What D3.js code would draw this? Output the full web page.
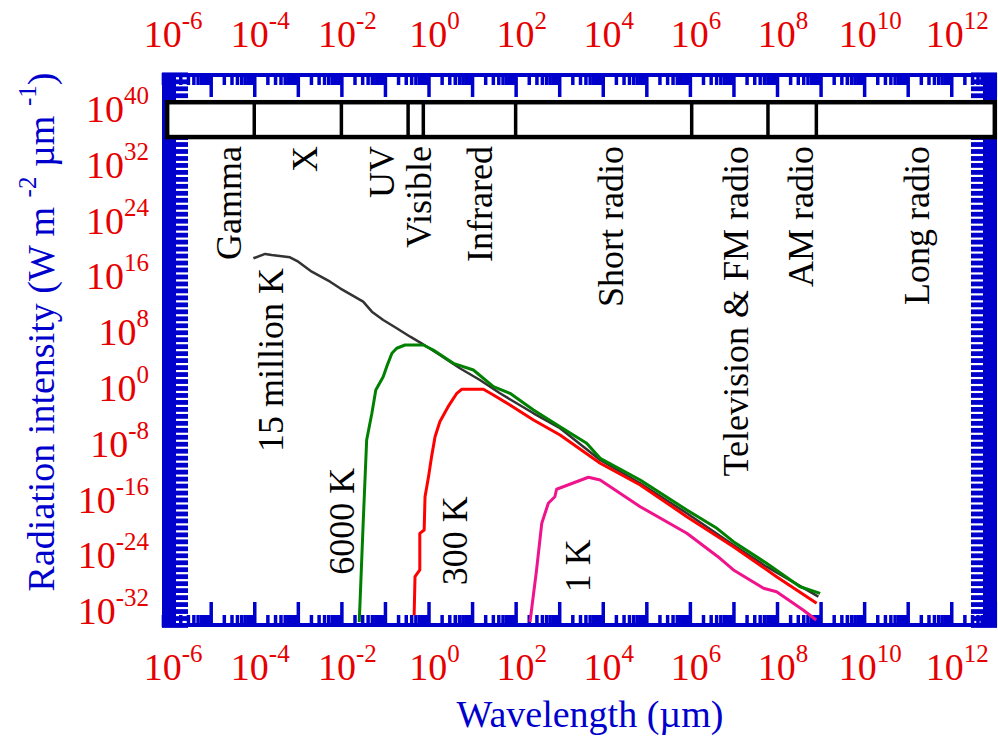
<!DOCTYPE html>
<html>
<head>
<meta charset="utf-8">
<script src="https://cdn.jsdelivr.net/npm/d3@7"></script>
<style>
  body { margin: 0; background: #fff; }
  svg { display: block; }
  text { font-family: "Liberation Serif", "Times New Roman", serif; }
</style>
</head>
<body>
<svg id="chart" width="998" height="740"></svg>
<script>
// labelled decades (exponents of 10)
const xLabelExp = [-6, -4, -2, 0, 2, 4, 6, 8, 10, 12];
const yLabelExp = [40, 32, 24, 16, 8, 0, -8, -16, -24, -32];

// spectrum bar: boundaries in µm, names and where each name sits
const bandEdges = [1e-4, 1e-2, 0.34, 0.76, 100, 1.1e6, 6.2e7, 8e8];
const bandNames = ["Gamma", "X", "UV", "Visible", "Infrared", "Short radio",
  "Television & FM radio", "AM radio", "Long radio"];
const bandLabelAt = [2.6e-5, 1.4e-3, 0.085, 0.58, 14.5, 1.5e4, 1.1e7, 3.4e8, 1.55e11];

// blackbody curves: log10 wavelength (µm) and log10 intensity
const hotLogWl = [-4.02, -3.75, -3.60, -3.18, -2.99, -2.68, -2.26, -2.03, -1.50, -1.30, -1.04, -0.73,
  -0.42, -0.16, 0.26, 0.72, 1.18, 1.64, 2.41, 3.02, 3.94, 4.86, 5.93, 7.00, 7.76, 8.95];
const hotLogI = [18.61, 19.23, 19.08, 18.75, 18.12, 16.69, 15.25, 14.30, 12.38, 10.95, 9.76, 8.57,
  7.36, 6.41, 4.73, 2.83, 1.15, -0.76, -3.63, -5.78, -10.33, -13.67, -17.98, -22.53, -25.64, -29.94];

const sunLogWl = [-1.59, -1.50, -1.42, -1.30, -1.21, -1.04, -0.96, -0.84, -0.73, -0.54, -0.12, 0.11,
  0.57, 1.03, 1.49, 1.87, 2.41, 3.02, 3.63, 3.94, 4.86, 5.93, 6.62, 7.00, 7.76, 8.53, 8.99];
const sunLogI = [-33.57, -19.41, -7.46, -3.63, -0.29, 1.62, 3.06, 4.98, 5.70, 6.17, 6.17, 5.45,
  3.54, 2.58, 0.19, -0.76, -3.16, -5.55, -7.93, -10.09, -13.20, -17.50, -20.13, -22.05, -25.15, -28.51, -29.46];

const roomLogWl = [-0.33, -0.31, -0.20, -0.20, -0.10, -0.08, 0.00, 0.07, 0.15, 0.26, 0.45, 0.65,
  0.76, 1.26, 1.49, 1.87, 2.41, 3.02, 3.94, 4.86, 5.93, 7.00, 7.99, 8.91];
const roomLogI = [-32.6, -27.07, -26.11, -20.85, -20.37, -15.60, -12.73, -9.86, -6.99, -4.84, -2.68, -0.76,
  -0.19, -0.19, -1.00, -2.44, -4.59, -6.74, -10.80, -13.92, -18.46, -22.77, -27.07, -30.89];

const coldLogWl = [2.33, 2.48, 2.60, 2.75, 2.90, 2.94, 3.67, 3.94, 4.86, 5.93, 6.69, 7.00, 7.69, 7.99, 8.60, 8.90];
const coldLogI = [-33.57, -26.11, -19.41, -16.54, -15.60, -14.53, -12.81, -13.20, -17.03, -20.85, -24.43,
  -26.11, -28.74, -29.23, -31.85, -33.29];

const curveNames = ["15 million K", "6000 K", "300 K", "1 K"];
const curveLabelWlExp = [-3.64, -2.01, 0.585, 3.41];
const curveLabelIExp = [-9.2, -26.8, -28.3, -29.3];

const BLUE = "#0000cd";
const RED = "#e60000";
const FONT = 38;

const svg = d3.select("#chart");

const x = d3.scaleLog().domain([10 ** -6.118, 10 ** 13.05]).range([162, 997]);
const y = d3.scaleLog().domain([10 ** -34.29, 10 ** 45.19]).range([627, 73]);
const [X0, X1] = x.range();
const [Y1, Y0] = y.range();

const inX = v => v >= x.domain()[0] && v <= x.domain()[1];
const inY = v => v >= y.domain()[0] && v <= y.domain()[1];

const xMajor = d3.range(-7, 14).map(k => 10 ** k).filter(inX);
const xMinor = [];
d3.range(-7, 14).forEach(k => d3.range(2, 10).forEach(m => xMinor.push(m * 10 ** k)));
const yMajor = d3.range(-35, 46).map(k => 10 ** k).filter(inY);

// frame: thick blue edges plus inward ticks
function tickRow(axis, tx, ty, w) {
  const g = svg.append("g").attr("transform", `translate(${tx},${ty})`).call(axis);
  g.select(".domain").remove();
  g.selectAll("text").remove();
  g.selectAll("line").attr("stroke", BLUE).attr("stroke-width", w);
}
tickRow(d3.axisBottom(x).tickValues(xMinor.filter(inX)).tickSize(12), 0, Y0, 3.5);
tickRow(d3.axisBottom(x).tickValues(xMajor).tickSize(24), 0, Y0, 3.5);
tickRow(d3.axisTop(x).tickValues(xMinor.filter(inX)).tickSize(12), 0, Y1, 3.5);
tickRow(d3.axisTop(x).tickValues(xMajor).tickSize(25), 0, Y1, 3.5);
tickRow(d3.axisRight(y).tickValues(yMajor).tickSize(26), X0, 0, 4.8);
tickRow(d3.axisLeft(y).tickValues(yMajor).tickSize(26), X1, 0, 4.8);

svg.append("rect").attr("x", X0).attr("y", Y0).attr("width", X1 - X0).attr("height", 4).attr("fill", BLUE);
svg.append("rect").attr("x", X0).attr("y", Y1 - 4).attr("width", X1 - X0).attr("height", 4).attr("fill", BLUE);
svg.append("rect").attr("x", X0).attr("y", Y0).attr("width", 14).attr("height", Y1 - Y0).attr("fill", BLUE);
svg.append("rect").attr("x", X1 - 14).attr("y", Y0).attr("width", 14).attr("height", Y1 - Y0).attr("fill", BLUE);

// tick labels with superscript exponents
function powText(sel, e) {
  sel.append("tspan").text("10");
  sel.append("tspan").attr("font-size", 25).attr("dy", -18).text(e);
}
xLabelExp.forEach(e => {
  [47, 680].forEach(base => {
    const t = svg.append("text")
      .attr("x", x(10 ** e) + 6)
      .attr("y", base)
      .attr("text-anchor", "middle")
      .attr("font-size", FONT)
      .attr("fill", RED);
    powText(t, e);
  });
});
yLabelExp.forEach(e => {
  const t = svg.append("text")
    .attr("x", 149)
    .attr("y", y(10 ** e) + 13)
    .attr("text-anchor", "end")
    .attr("font-size", FONT)
    .attr("fill", RED);
  powText(t, e);
});

// axis titles
svg.append("text")
  .attr("x", 590)
  .attr("y", 727)
  .attr("text-anchor", "middle")
  .attr("font-size", FONT)
  .attr("fill", BLUE)
  .text("Wavelength (\u00b5m)");

const yt = svg.append("text")
  .attr("transform", "translate(54,332) rotate(-90)")
  .attr("text-anchor", "middle")
  .attr("font-size", FONT)
  .attr("fill", BLUE);
yt.append("tspan").text("Radiation intensity (W m ");
yt.append("tspan").attr("font-size", 25).attr("dy", -18).text("-2");
yt.append("tspan").attr("dy", 18).text(" \u00b5m ");
yt.append("tspan").attr("font-size", 25).attr("dy", -18).text("-1");
yt.append("tspan").attr("dy", 18).text(")");

// spectrum bar
const barTop = y(1e41), barBottom = y(1e36);
svg.append("rect")
  .attr("x", x(1e-6))
  .attr("y", barTop)
  .attr("width", x(1e13) - x(1e-6))
  .attr("height", barBottom - barTop)
  .attr("fill", "#fff")
  .attr("stroke", "#000")
  .attr("stroke-width", 4.5);
svg.append("g").selectAll("line").data(bandEdges).join("line")
  .attr("x1", d => x(d)).attr("x2", d => x(d))
  .attr("y1", barTop).attr("y2", barBottom)
  .attr("stroke", "#000")
  .attr("stroke-width", 3.5);

svg.append("g").selectAll("text").data(bandNames).join("text")
  .attr("transform", (d, i) => `translate(${x(bandLabelAt[i])},${barBottom + 9}) rotate(-90)`)
  .attr("text-anchor", "end")
  .attr("dy", "0.35em")
  .attr("font-size", 36)
  .attr("fill", "#000")
  .text(d => d);

// curves
const line = d3.line()
  .x(d => x(10 ** d[0]))
  .y(d => y(10 ** d[1]));
const curves = [
  { wl: hotLogWl, i: hotLogI, color: "#333333", w: 2.5 },
  { wl: sunLogWl, i: sunLogI, color: "#008000", w: 3 },
  { wl: roomLogWl, i: roomLogI, color: "#ff0000", w: 3 },
  { wl: coldLogWl, i: coldLogI, color: "#f0148c", w: 3 },
];
curves.forEach(c => {
  svg.append("path")
    .datum(d3.zip(c.wl, c.i))
    .attr("d", line)
    .attr("fill", "none")
    .attr("stroke", c.color)
    .attr("stroke-width", c.w)
    .attr("stroke-linejoin", "round");
});

svg.append("g").selectAll("text").data(curveNames).join("text")
  .attr("transform", (d, i) => `translate(${x(10 ** curveLabelWlExp[i])},${y(10 ** curveLabelIExp[i])}) rotate(-90)`)
  .attr("dy", "0.35em")
  .attr("font-size", 36)
  .attr("fill", "#000")
  .text(d => d);
</script>
</body>
</html>
